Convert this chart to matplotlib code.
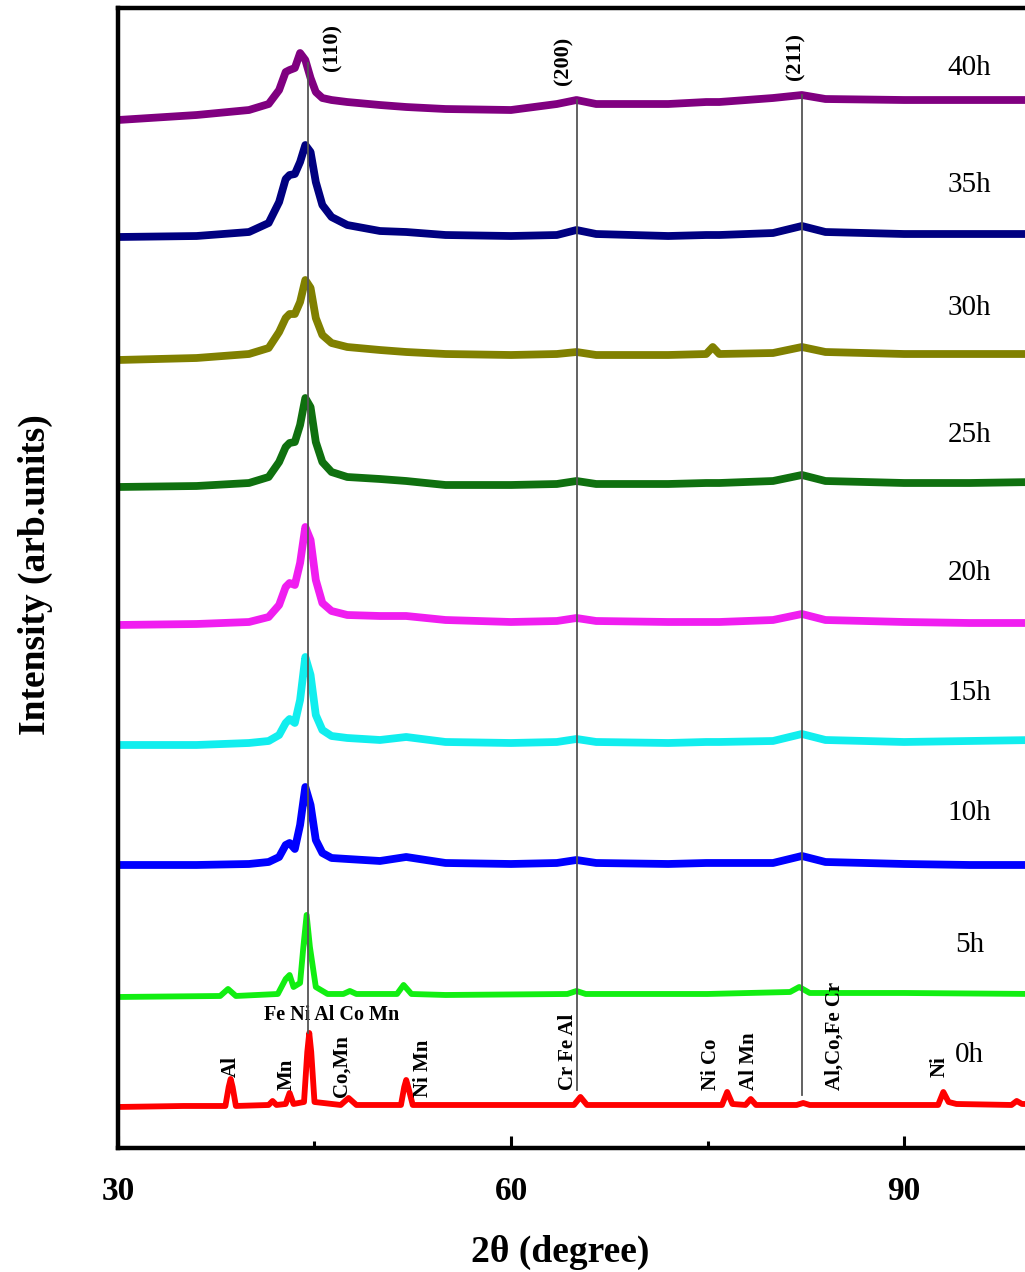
import numpy as np
import matplotlib.pyplot as plt

plt.rcParams['font.family'] = ['Liberation Serif', 'DejaVu Serif']

# 2theta grid shared by the milled samples (5h is on its own grid, 0h too)
two_theta = [30, 36, 40, 41.5, 42.3, 42.8, 43.1, 43.5, 43.9, 44.3,
             44.7, 45.1, 45.6, 46.3, 47.5, 50, 52, 55, 60, 63.5,
             65.0, 66.5, 72, 74.9, 75.4, 75.9, 80, 82.2, 84, 90,
             95, 100]

# intensities relative to each pattern's own baseline (arb. units)
i_10h = [0, 0, 1, 3, 8, 20, 22, 16, 40, 78,
         60, 25, 12, 7, 6, 4, 8, 2, 1, 2,
         5, 2, 1, 2, 2, 2, 2, 9, 3, 1,
         0, 0]
i_15h = [0, 0, 2, 4, 10, 22, 26, 22, 45, 88,
         70, 30, 15, 9, 7, 5, 8, 3, 2, 3,
         6, 3, 2, 3, 3, 3, 4, 11, 5, 3,
         4, 5]
i_20h = [0, 1, 3, 8, 20, 38, 42, 40, 62, 98,
         85, 45, 22, 14, 10, 9, 9, 5, 3, 4,
         7, 4, 3, 3, 3, 3, 5, 11, 5, 3,
         2, 2]
i_25h = [0, 1, 4, 10, 25, 40, 44, 45, 62, 89,
         80, 45, 25, 15, 10, 8, 6, 2, 2, 3,
         6, 3, 3, 4, 4, 4, 6, 12, 6, 4,
         4, 5]
i_30h = [0, 2, 6, 12, 28, 42, 46, 46, 58, 80,
         72, 42, 25, 17, 13, 10, 8, 6, 5, 6,
         8, 5, 5, 6, 13, 6, 7, 13, 8, 6,
         6, 6]
i_35h = [0, 1, 5, 14, 35, 58, 62, 63, 75, 92,
         85, 55, 32, 20, 12, 6, 5, 2, 1, 2,
         7, 3, 1, 2, 2, 2, 4, 11, 5, 3,
         3, 3]
i_40h = [0, 5, 10, 16, 30, 48, 50, 52, 67, 60,
         42, 28, 22, 20, 18, 15, 13, 11, 10, 16,
         20, 16, 16, 18, 18, 18, 22, 25, 21, 20,
         20, 20]

tt_5h = [30, 37.8, 38.4, 39.0, 42.2, 42.8, 43.1, 43.4, 43.9, 44.15,
         44.4, 44.65, 45.1, 46, 47.2, 47.7, 48.2, 51.3, 51.8, 52.4,
         55, 64.3, 65.0, 65.7, 75, 81.3, 82.0, 82.8, 90, 100]
i_5h = [0, 1, 8, 1, 3, 18, 22, 10, 14, 50,
        82, 50, 10, 3, 3, 6, 3, 3, 12, 3,
        2, 3, 6, 3, 3, 5, 10, 4, 4, 3]

tt_0h = [30, 35, 38.2, 38.45, 38.6, 38.75, 39.0, 41.5, 41.8, 42.1,
         42.8, 43.1, 43.4, 44.2, 44.45, 44.6, 44.75, 45.0, 47.0, 47.6,
         48.2, 51.6, 51.85, 52.0, 52.15, 52.5, 64.8, 65.3, 65.8, 76.1,
         76.5, 76.9, 77.9, 78.3, 78.7, 81.8, 82.3, 82.8, 92.6, 93.0,
         93.4, 94.0, 98.2, 98.6, 99.0, 100]
i_0h = [0, 1, 1, 20, 28, 20, 1, 2, 6, 2,
        3, 14, 3, 5, 55, 74, 55, 5, 2, 9,
        2, 2, 20, 27, 20, 2, 2, 10, 2, 2,
        15, 3, 2, 8, 2, 2, 4, 2, 2, 15,
        5, 3, 2, 6, 3, 3]

labels = ['0h', '5h', '10h', '15h', '20h', '25h', '30h', '35h', '40h']
offsets = [41, 151, 283, 403, 523, 661, 788, 911, 1028]
colors = ['#ff0000', '#11ee11', '#0000ff', '#11eeee', '#f01ef0',
          '#0f700f', '#808000', '#000080', '#800080']

series = [(tt_0h, i_0h), (tt_5h, i_5h), (two_theta, i_10h), (two_theta, i_15h),
          (two_theta, i_20h), (two_theta, i_25h), (two_theta, i_30h),
          (two_theta, i_35h), (two_theta, i_40h)]

# bcc reflections and the extent of their guide lines
hkl = ['(110)', '(200)', '(211)']
hkl_pos = [44.5, 65.0, 82.2]
hkl_lo = [115, 58, 53]
hkl_hi = [1085, 1048, 1053]

# phases indexed on the 0h pattern (rotated labels)
phase_txt = ['Al', 'Mn', 'Co,Mn', 'Ni Mn', 'Cr Fe Al', 'Ni Co', 'Al Mn', 'Al,Co,Fe Cr', 'Ni']
phase_pos = [38.6, 42.9, 47.1, 53.3, 64.35, 75.3, 78.2, 84.7, 92.75]
phase_base = [71, 58, 51, 51, 58, 58, 58, 58, 71]

fig = plt.figure(figsize=(10.25, 12.72), dpi=100)
ax = fig.add_axes([0.1151, 0.0975, 0.8947, 0.8962])

for (x, y), off, c in zip(series, offsets, colors):
    lw = 4.2 if c in ('#ff0000', '#11ee11') else 5.6
    ax.plot(x, np.array(y) + off, color=c, lw=lw, solid_joinstyle='round')

for lab, off in zip(labels, offsets):
    ax.text(95.0, off + 52, lab, fontsize=21, ha='center', va='center')

for name, p, lo, hi in zip(hkl, hkl_pos, hkl_lo, hkl_hi):
    ax.plot([p, p], [lo, hi], color='#555555', lw=1.3, zorder=5)
for name, p, dx, yc in zip(hkl, hkl_pos, [1.9, -1.0, -0.5], [1101, 1087, 1092]):
    ax.text(p + dx, yc, name, rotation=90, fontsize=16, fontweight='bold',
            ha='center', va='center')

for t, p, b in zip(phase_txt, phase_pos, phase_base):
    ax.text(p, b, t, rotation=90, fontsize=15, fontweight='bold',
            ha='center', va='bottom')
ax.text(46.3, 133, 'Fe Ni Al Co Mn', fontsize=14.5, fontweight='bold',
        ha='center', va='center')

ax.set_xlim(30, 100)
ax.set_ylim(0, 1140)
ax.set_xticks([30, 60, 90])
ax.set_xticks([45, 75], minor=True)
ax.set_yticks([])
ax.tick_params(axis='x', which='major', direction='in', length=9, width=2.2,
               pad=20, labelsize=24)
ax.tick_params(axis='x', which='minor', direction='in', length=5, width=2.2)
for lbl in ax.get_xticklabels():
    lbl.set_fontweight('bold')
for s in ax.spines.values():
    s.set_linewidth(3.2)

ax.set_xlabel('2θ (degree)', fontsize=27, fontweight='bold')
ax.set_ylabel('Intensity (arb.units)', fontsize=27, fontweight='bold')
ax.xaxis.set_label_coords(0.482, -0.076)
ax.yaxis.set_label_coords(-0.071, 0.503)

fig.savefig('out.png', dpi=100)
